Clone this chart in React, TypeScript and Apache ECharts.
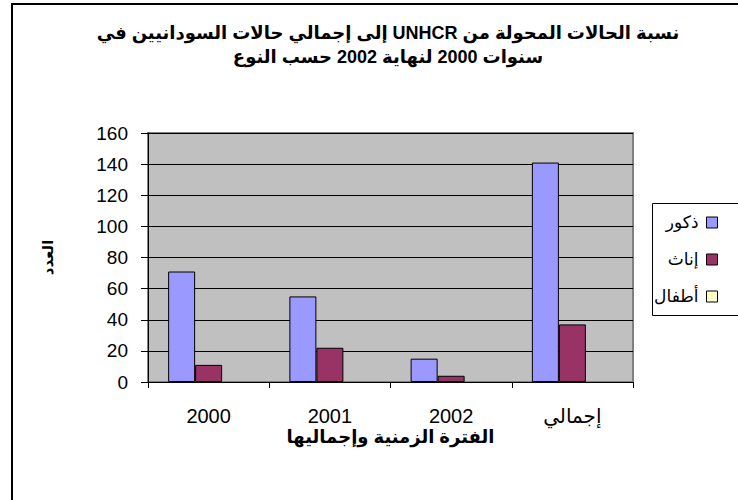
import React, { useEffect, useRef } from "react";
import * as echarts from "echarts";

const categories = ["2000", "2001", "2002", "إجمالي"];
const males = [71, 55, 15, 141];
const females = [11, 22, 4, 37];
const children = [0, 0, 0, 0];
const seriesNames = ["ذكور", "إناث", "أطفال"];
const seriesColors = ["#9999ff", "#993366", "#ffffcc"];
const titleLines = [
  "نسبة الحالات المحولة من UNHCR إلى إجمالي حالات السودانيين في",
  "سنوات 2000 لنهاية 2002 حسب النوع",
];
const xName = "الفترة الزمنية وإجماليها";
const yName = "العدد";

const FONT = "'Liberation Sans', Arial, 'DejaVu Sans', sans-serif";
const rtl = (s: string) => "\u202B" + s + "\u202C";

export default function App() {
  const ref = useRef<HTMLDivElement>(null);
  useEffect(() => {
    if (!ref.current) return;
    const chart = echarts.init(ref.current, undefined, { renderer: "svg" });
    const barStyle = (color: string, bw = 1) => ({
      color,
      borderColor: "#000",
      borderWidth: bw,
    });
    chart.setOption({
      animation: false,
      backgroundColor: "#fff",
      title: {
        text: titleLines.map(rtl).join("\n"),
        left: 383,
        textAlign: "center",
        top: 16,
        textStyle: {
          fontFamily: FONT,
          fontSize: 18,
          fontWeight: "bold",
          color: "#000",
          lineHeight: 24,
        },
      },
      graphic: [
        {
          type: "rect",
          shape: { x: 12, y: 4, width: 800, height: 600 },
          style: { fill: "none", stroke: "#000", lineWidth: 2 },
          silent: true,
        },
        {
          type: "rect",
          shape: { x: 652.5, y: 203.5, width: 120, height: 112 },
          style: { fill: "#fff", stroke: "#000", lineWidth: 1 },
          silent: true,
          z: 0,
        },
      ],
      legend: {
        orient: "vertical",
        right: 20,
        top: 214,
        padding: 0,
        align: "right",
        itemWidth: 11,
        itemHeight: 11,
        itemGap: 20,
        textStyle: { fontFamily: FONT, fontSize: 17, color: "#000", padding: [0, 3, 0, 0] },
        data: seriesNames.map((n, i) => ({
          name: n,
          icon: "rect",
          itemStyle: { color: seriesColors[i], borderColor: "#000", borderWidth: 1 },
        })),
        z: 5,
      },
      grid: {
        left: 148,
        top: 133,
        width: 485,
        height: 249,
        show: true,
        backgroundColor: "#c0c0c0",
        borderColor: "#808080",
        borderWidth: 2,
      },
      xAxis: {
        type: "category",
        data: categories,
        boundaryGap: true,
        name: rtl(xName),
        nameLocation: "middle",
        nameGap: 46,
        nameTextStyle: { fontFamily: FONT, fontSize: 18, fontWeight: "bold", color: "#000" },
        axisLine: { lineStyle: { color: "#000", width: 1 } },
        axisTick: { show: true, length: 6, alignWithLabel: false, lineStyle: { color: "#000" } },
        axisLabel: { fontFamily: FONT, fontSize: 20, color: "#000", margin: 24 },
      },
      yAxis: {
        type: "value",
        min: 0,
        max: 160,
        interval: 20,
        name: yName,
        nameLocation: "middle",
        nameGap: 93,
        nameRotate: 90,
        nameTextStyle: { fontFamily: FONT, fontSize: 15, fontWeight: "bold", color: "#000" },
        axisLine: { show: true, lineStyle: { color: "#000", width: 1 } },
        axisTick: { show: true, length: 7, lineStyle: { color: "#000" } },
        axisLabel: { fontFamily: FONT, fontSize: 19, color: "#000", margin: 20 },
        splitLine: { show: true, lineStyle: { color: "#000", width: 1 } },
      },
      series: [
        { name: seriesNames[0], type: "bar", data: males, barWidth: 27, barGap: "0%", itemStyle: barStyle(seriesColors[0]) },
        { name: seriesNames[1], type: "bar", data: females, barWidth: 27, barGap: "0%", itemStyle: barStyle(seriesColors[1]) },
        { name: seriesNames[2], type: "bar", data: children, barWidth: 27, barGap: "0%", itemStyle: barStyle(seriesColors[2], 0) },
      ],
    });
    return () => chart.dispose();
  }, []);
  return (
    <div
      ref={ref}
      style={{ position: "fixed", left: 0, top: 0, width: 738, height: 500 }}
    />
  );
}
